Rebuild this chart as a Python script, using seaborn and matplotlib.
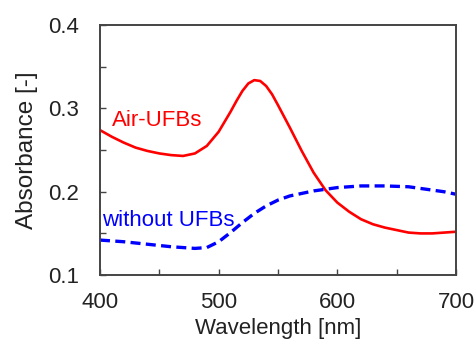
import matplotlib
matplotlib.use("Agg")
import matplotlib.pyplot as plt
import seaborn as sns
import pandas as pd
from matplotlib.ticker import MultipleLocator

# Data
red_wl = [400, 410, 420, 430, 440, 450, 460, 470, 480, 490, 500, 510, 515, 520, 525, 530,
          535, 540, 545, 550, 560, 570, 580, 590, 600, 610, 620, 630, 640, 650, 660, 670,
          680, 690, 700]
red_abs = [0.274, 0.266, 0.259, 0.253, 0.249, 0.246, 0.244, 0.243, 0.246, 0.255, 0.272,
           0.296, 0.309, 0.321, 0.330, 0.334, 0.333, 0.327, 0.317, 0.304, 0.277, 0.249,
           0.223, 0.202, 0.187, 0.176, 0.167, 0.161, 0.157, 0.154, 0.151, 0.150, 0.150,
           0.151, 0.152]

blue_wl = [400, 420, 440, 460, 480, 490, 500, 510, 520, 530, 540, 550, 560, 570, 580,
           590, 600, 620, 640, 660, 670, 680, 690, 700]
blue_abs = [0.142, 0.140, 0.137, 0.134, 0.132, 0.133, 0.140, 0.151, 0.163, 0.174, 0.183,
            0.190, 0.195, 0.198, 0.201, 0.203, 0.205, 0.207, 0.207, 0.206, 0.204, 0.202,
            0.200, 0.197]

x_ticks = [400, 500, 600, 700]
y_ticks = [0.1, 0.2, 0.3, 0.4]
y_tick_labels = ["0.1", "0.2", "0.3", "0.4"]

sns.set_style("white")
plt.rcParams['font.family'] = ['Liberation Sans', 'DejaVu Sans']

fig = plt.figure(figsize=(4.75, 3.4), dpi=100)
ax = fig.add_axes([0.2105, 0.191, 0.7495, 0.735])

df_red = pd.DataFrame({"wl": red_wl, "abs": red_abs})
df_blue = pd.DataFrame({"wl": blue_wl, "abs": blue_abs})

sns.lineplot(data=df_red, x="wl", y="abs", ax=ax, color="#ff0000", linewidth=1.9)
sns.lineplot(data=df_blue, x="wl", y="abs", ax=ax, color="#0000ff", linewidth=2.4)
ax.lines[-1].set_dashes([3.0, 1.6])

ax.set_xlim(400, 700)
ax.set_ylim(0.1, 0.4)
ax.set_xticks(x_ticks)
ax.set_yticks(y_ticks)
ax.set_yticklabels(y_tick_labels)
ax.xaxis.set_minor_locator(MultipleLocator(50))
ax.yaxis.set_minor_locator(MultipleLocator(0.05))
ax.tick_params(which="both", direction="in", length=4, width=1.0, color="#444444",
               bottom=True, left=True, top=False, right=False)
ax.tick_params(axis="x", which="major", labelsize=16, pad=12, labelcolor="#222222")
ax.tick_params(axis="y", which="major", labelsize=16, pad=15, labelcolor="#222222")

for s in ax.spines.values():
    s.set_color("#444444")
    s.set_linewidth(1.4)

ax.set_xlabel("Wavelength [nm]", fontsize=16, color="#222222", labelpad=4)
ax.set_ylabel("Absorbance [-]", fontsize=17.5, color="#222222", labelpad=7)

ax.text(410, 0.286, "Air-UFBs", color="#ff0000", fontsize=16, va="center", ha="left")
ax.text(402, 0.166, "without UFBs", color="#0000ff", fontsize=16, va="center", ha="left")

fig.savefig("out.png", dpi=100)
